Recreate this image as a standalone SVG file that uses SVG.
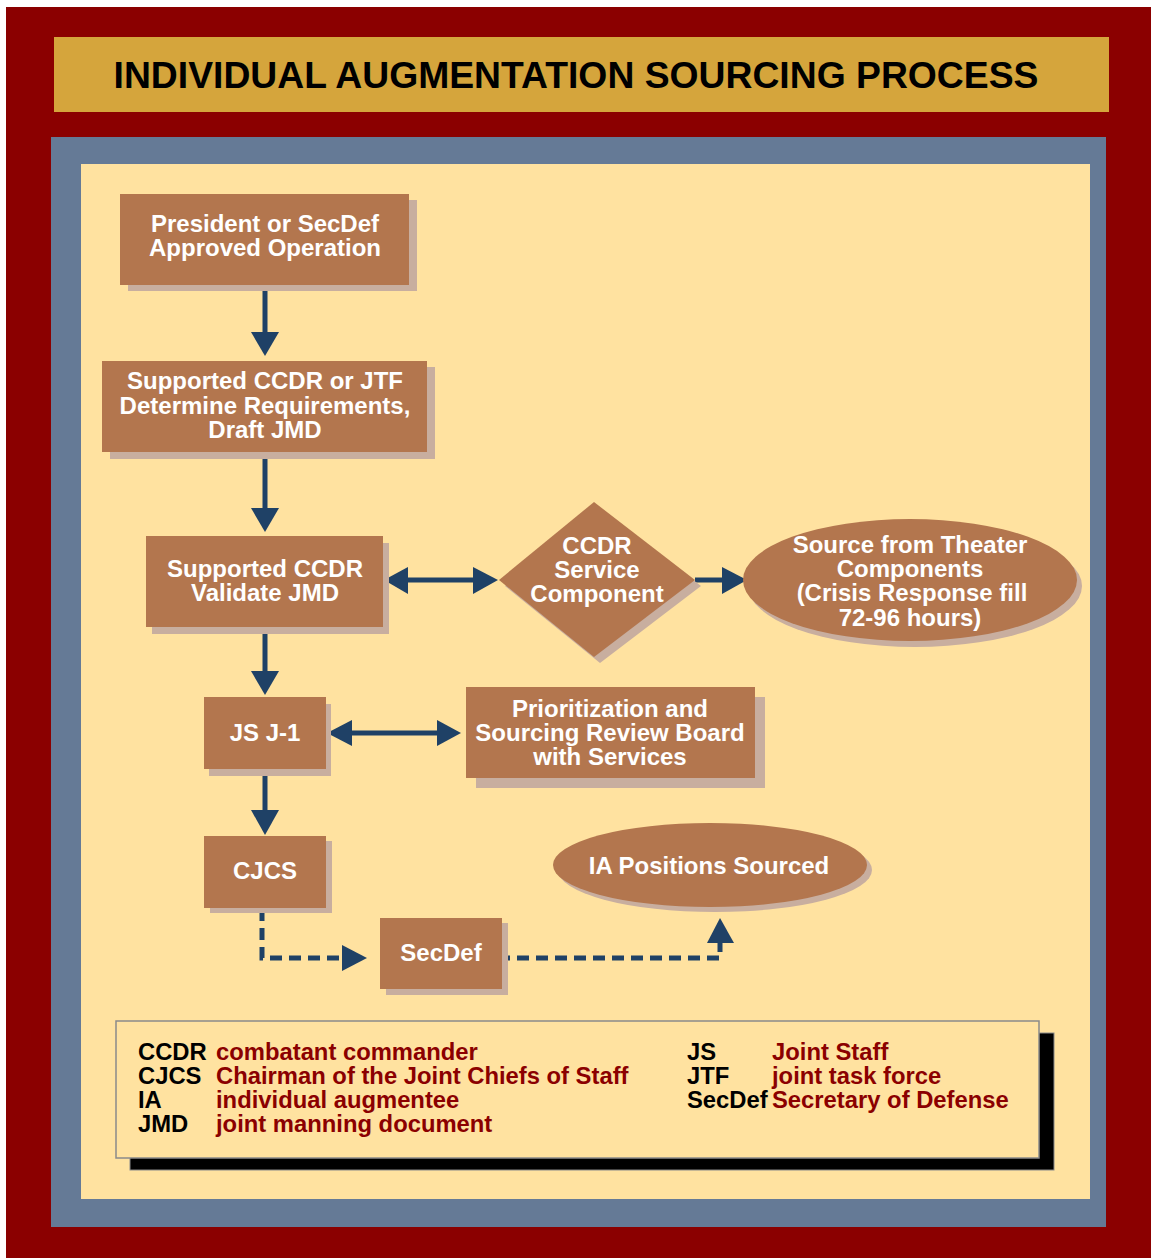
<svg xmlns="http://www.w3.org/2000/svg" width="1151" height="1258" viewBox="0 0 1151 1258">
<defs>
<style>
.node{fill:#B3764E}
.shd{fill:#C8AE9F}
.nt{font-family:"Liberation Sans",Arial,sans-serif;font-weight:bold;font-size:24px;fill:#FFFFFF;text-anchor:middle}
.conn{stroke:#1F4166;stroke-width:5;fill:none}
.dash{stroke:#1F4166;stroke-width:5;fill:none;stroke-dasharray:12 7}
.ah{fill:#1F4166}
.lk{font-family:"Liberation Sans",Arial,sans-serif;font-weight:bold;font-size:23.8px;fill:#000000}
.lv{font-family:"Liberation Sans",Arial,sans-serif;font-weight:bold;font-size:23.8px;fill:#8B0000}
</style>
</defs>
<rect x="0" y="0" width="1151" height="1258" fill="#FFFFFF"/>
<rect x="6" y="7" width="1145" height="1251" fill="#8B0000"/>
<rect x="54" y="37" width="1055" height="75" fill="#D5A53C"/>
<text x="576" y="88" font-family="'Liberation Sans',Arial,sans-serif" font-weight="bold" font-size="37.3" text-anchor="middle" fill="#000000">INDIVIDUAL AUGMENTATION SOURCING PROCESS</text>
<rect x="51" y="137" width="1055" height="1090" fill="#657A96"/>
<rect x="81" y="164" width="1009" height="1035" fill="#FFE2A0"/>

<g id="connectors">
<line class="conn" x1="265" y1="285" x2="265" y2="334"/>
<polygon class="ah" points="251,332 279,332 265,356"/>
<line class="conn" x1="265" y1="452" x2="265" y2="510"/>
<polygon class="ah" points="251,508 279,508 265,532"/>
<line class="conn" x1="405" y1="580" x2="476" y2="580"/>
<polygon class="ah" points="384,580 408,567 408,594"/>
<polygon class="ah" points="498,580 473,567 473,594"/>
<line class="conn" x1="695" y1="580" x2="725" y2="580"/>
<polygon class="ah" points="747,580 722,567 722,594"/>
<line class="conn" x1="265" y1="627" x2="265" y2="673"/>
<polygon class="ah" points="251,671 279,671 265,695"/>
<line class="conn" x1="349" y1="733" x2="440" y2="733"/>
<polygon class="ah" points="327,733 352,720 352,746"/>
<polygon class="ah" points="461,733 437,720 437,746"/>
<line class="conn" x1="265" y1="769" x2="265" y2="812"/>
<polygon class="ah" points="251,810 279,810 265,835"/>
<polyline class="dash" points="262,909 262,958 342,958"/>
<polygon class="ah" points="367,958 342,945 342,971"/>
<polyline class="dash" points="498,958 720,958 720,941"/>
<polygon class="ah" points="720,918 707,943 734,943"/>
</g>

<g id="n1">
<rect class="shd" x="128" y="200" width="289" height="91"/>
<rect class="node" x="120" y="194" width="289" height="91"/>
<text class="nt" x="265" y="232">President or SecDef</text>
<text class="nt" x="265" y="256">Approved Operation</text>
</g>
<g id="n2">
<rect class="shd" x="110" y="367" width="325" height="92"/>
<rect class="node" x="102" y="361" width="325" height="91"/>
<text class="nt" x="265" y="389">Supported CCDR or JTF</text>
<text class="nt" x="265" y="414">Determine Requirements,</text>
<text class="nt" x="265" y="438">Draft JMD</text>
</g>
<g id="n3">
<rect class="shd" x="152" y="543" width="237" height="91"/>
<rect class="node" x="146" y="536" width="237" height="91"/>
<text class="nt" x="265" y="577">Supported CCDR</text>
<text class="nt" x="265" y="601">Validate JMD</text>
</g>
<g id="n4">
<polygon class="shd" points="600,508 701,586 600,663 505,586"/>
<polygon class="node" points="594,502 695,580 594,657 499,580"/>
<text class="nt" x="597" y="554">CCDR</text>
<text class="nt" x="597" y="578">Service</text>
<text class="nt" x="597" y="602">Component</text>
</g>
<g id="n5">
<ellipse class="shd" cx="915" cy="586" rx="167" ry="61"/>
<ellipse class="node" cx="910" cy="580" rx="167" ry="61"/>
<text class="nt" x="910" y="553">Source from Theater</text>
<text class="nt" x="910" y="577">Components</text>
<text class="nt" x="912" y="601">(Crisis Response fill</text>
<text class="nt" x="910" y="626">72-96 hours)</text>
</g>
<g id="n6">
<rect class="shd" x="209" y="704" width="122" height="72"/>
<rect class="node" x="204" y="697" width="122" height="72"/>
<text class="nt" x="265" y="741">JS J-1</text>
</g>
<g id="n7">
<rect class="shd" x="476" y="697" width="289" height="91"/>
<rect class="node" x="466" y="687" width="289" height="91"/>
<text class="nt" x="610" y="717">Prioritization and</text>
<text class="nt" x="610" y="741">Sourcing Review Board</text>
<text class="nt" x="610" y="765">with Services</text>
</g>
<g id="n8">
<rect class="shd" x="210" y="841" width="122" height="72"/>
<rect class="node" x="204" y="836" width="122" height="72"/>
<text class="nt" x="265" y="879">CJCS</text>
</g>
<g id="n9">
<rect class="shd" x="386" y="923" width="122" height="72"/>
<rect class="node" x="380" y="918" width="122" height="71"/>
<text class="nt" x="441" y="961">SecDef</text>
</g>
<g id="n10">
<ellipse class="shd" cx="715" cy="870" rx="157" ry="42"/>
<ellipse class="node" cx="710" cy="865" rx="157" ry="42"/>
<text class="nt" x="709" y="874">IA Positions Sourced</text>
</g>

<g id="legend">
<rect x="130" y="1033" width="924" height="137" fill="#000000" stroke="#8A8A8A" stroke-width="1"/>
<rect x="116" y="1021" width="923" height="137" fill="#FFE2A0" stroke="#8A8A8A" stroke-width="1.5"/>
<text class="lk" x="138" y="1060">CCDR</text>
<text class="lv" x="216" y="1060">combatant commander</text>
<text class="lk" x="138" y="1084">CJCS</text>
<text class="lv" x="216" y="1084">Chairman of the Joint Chiefs of Staff</text>
<text class="lk" x="138" y="1108">IA</text>
<text class="lv" x="216" y="1108">individual augmentee</text>
<text class="lk" x="138" y="1132">JMD</text>
<text class="lv" x="216" y="1132">joint manning document</text>
<text class="lk" x="687" y="1060">JS</text>
<text class="lv" x="772" y="1060">Joint Staff</text>
<text class="lk" x="687" y="1084">JTF</text>
<text class="lv" x="772" y="1084">joint task force</text>
<text class="lk" x="687" y="1108">SecDef</text>
<text class="lv" x="772" y="1108">Secretary of Defense</text>
</g>
</svg>
